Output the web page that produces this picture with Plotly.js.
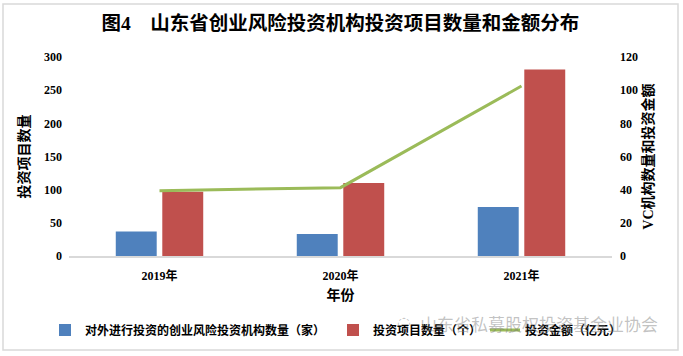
<!DOCTYPE html>
<html>
<head>
<meta charset="utf-8">
<script src="https://cdn.plot.ly/plotly-3.0.1.min.js"></script>
<style>
  html, body { margin: 0; padding: 0; background: #ffffff; }
  #chart { width: 683px; height: 356px; }
</style>
</head>
<body>
<div id="chart"></div>
<script>
// ---- data ----
const categories = ['2019年', '2020年', '2021年'];
const institutionCount = [37, 33, 74];      // 对外进行投资的创业风险投资机构数量（家）
const projectCount = [97, 110, 281];        // 投资项目数量（个）
const investAmount = [39.4, 41.2, 102.5];   // 投资金额（亿元）
const leftTicks = [0, 50, 100, 150, 200, 250, 300];
const rightTicks = [0, 20, 40, 60, 80, 100, 120];

const seriesNames = [
  '对外进行投资的创业风险投资机构数量（家）',
  '投资项目数量（个）',
  '投资金额（亿元）'
];
const titleText = '图4　山东省创业风险投资机构投资项目数量和金额分布';
const watermarkText = '山东省私募股权投资基金业协会';

const FONT = '"Liberation Serif", "Noto Sans CJK SC", serif';

const traces = [
  {
    type: 'bar', name: seriesNames[0], x: categories, y: institutionCount,
    marker: { color: '#4F81BD' }, yaxis: 'y', hoverinfo: 'none', legend: 'legend'
  },
  {
    type: 'bar', name: seriesNames[1], x: categories, y: projectCount,
    marker: { color: '#C0504D' }, yaxis: 'y', hoverinfo: 'none', legend: 'legend2'
  },
  {
    type: 'scatter', mode: 'lines', name: seriesNames[2], x: categories, y: investAmount,
    line: { color: '#9BBB59', width: 3 }, yaxis: 'y2', hoverinfo: 'none', legend: 'legend3'
  }
];

function legendAt(px) {
  return {
    orientation: 'h', xref: 'paper', yref: 'paper',
    x: (px - 69) / 543, xanchor: 'left', y: (256 - 330) / 199, yanchor: 'middle',
    font: { family: FONT, size: 12, color: '#000000', weight: 'bold' },
    itemwidth: 30, bgcolor: 'rgba(0,0,0,0)'
  };
}

const layout = {
  width: 683, height: 356,
  margin: { l: 69, r: 71, t: 57, b: 100, autoexpand: false },
  paper_bgcolor: '#ffffff', plot_bgcolor: '#ffffff',
  font: { family: FONT, color: '#000000', size: 12 },
  showlegend: true,
  barmode: 'group', bargap: 0.486, bargroupgap: 0.12,
  title: {
    text: '<b>' + titleText + '</b>',
    font: { family: FONT, size: 19.5, color: '#000000' },
    x: 0.5, xanchor: 'center', y: 0.935, yanchor: 'middle', xref: 'paper'
  },
  xaxis: {
    type: 'category',
    tickfont: { family: FONT, size: 12, color: '#000000', weight: 'bold' },
    showgrid: false, zeroline: false,
    showline: true, linecolor: '#d9d9d9', linewidth: 2,
    ticks: '', ticklabelstandoff: 8,
    title: { text: '<b>年份</b>', font: { family: FONT, size: 14 }, standoff: 8 }
  },
  yaxis: {
    range: [0, 300], tickvals: leftTicks, ticktext: leftTicks.map(String),
    tickfont: { family: FONT, size: 12, color: '#000000', weight: 'bold' },
    showgrid: false, zeroline: false, showline: false, ticks: '',
    ticklabelstandoff: 6,
    title: { text: '<b>投资项目数量</b>', font: { family: FONT, size: 14 }, standoff: 11 }
  },
  yaxis2: {
    overlaying: 'y', side: 'right',
    range: [0, 120], tickvals: rightTicks, ticktext: rightTicks.map(String),
    tickfont: { family: FONT, size: 12, color: '#000000', weight: 'bold' },
    showgrid: false, zeroline: false, showline: false, ticks: '',
    ticklabelstandoff: 7,
    title: { text: '<b>VC机构数量和投资金额</b>', font: { family: FONT, size: 14 }, standoff: 6 }
  },
  legend: legendAt(45),
  legend2: legendAt(333),
  legend3: legendAt(485),
  shapes: [
    {
      type: 'rect', xref: 'paper', yref: 'paper',
      x0: (3 - 69) / 543, x1: (678 - 69) / 543,
      y0: (256 - 350) / 199, y1: (256 - 4) / 199,
      line: { color: '#d9d9d9', width: 1.5 }, fillcolor: 'rgba(0,0,0,0)', layer: 'below'
    }
  ],
  annotations: [
    {
      text: watermarkText, xref: 'paper', yref: 'paper',
      x: (418 - 69) / 543, y: (256 - 323) / 199, xanchor: 'left', yanchor: 'middle',
      showarrow: false,
      font: { family: '"Noto Sans CJK SC", sans-serif', size: 17, color: 'rgba(120,120,120,0.45)' }
    },
    {
      text: '◌', xref: 'paper', yref: 'paper',
      x: (404 - 69) / 543, y: (256 - 322) / 199, xanchor: 'center', yanchor: 'middle',
      showarrow: false,
      font: { family: '"DejaVu Sans", sans-serif', size: 16, color: 'rgba(120,120,120,0.45)' }
    }
  ]
};

Plotly.newPlot('chart', traces, layout, { staticPlot: true, displayModeBar: false });
</script>
</body>
</html>
